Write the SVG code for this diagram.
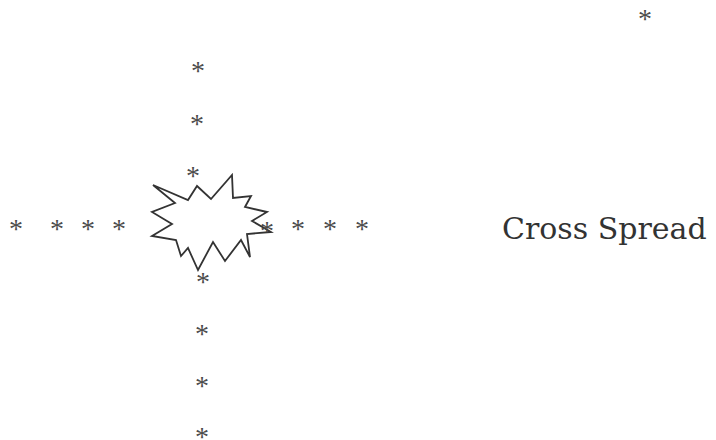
<svg xmlns="http://www.w3.org/2000/svg" width="716" height="440" viewBox="0 0 716 440">
<style>
.a{font-family:"Liberation Serif",serif;font-size:28px;fill:#4a4a4a;text-anchor:middle}
.t{font-family:"DejaVu Serif","Liberation Serif",serif;font-size:30px;fill:#333}
.s{fill:#fff;stroke:#333;stroke-width:1.8;stroke-linejoin:miter}
</style>
<rect width="716" height="440" fill="#fff"/>
<g id="asterisks" opacity="0.99">
<text class="a" x="198" y="80">*</text>
<text class="a" x="197" y="133">*</text>
<text class="a" x="193" y="185">*</text>
<text class="a" x="203" y="291">*</text>
<text class="a" x="202" y="343">*</text>
<text class="a" x="202" y="395">*</text>
<text class="a" x="202" y="446">*</text>
<text class="a" x="16" y="238">*</text>
<text class="a" x="57" y="238">*</text>
<text class="a" x="88" y="238">*</text>
<text class="a" x="119" y="238">*</text>
<text class="a" x="298" y="238">*</text>
<text class="a" x="330" y="238">*</text>
<text class="a" x="362" y="238">*</text>
<text class="a" x="645" y="28">*</text>
</g>
<g id="burst">
<polygon class="s" points="153,185 188,200 197,186 211,199 232,175 233,198 251,196 245,207 267,212 252,221 271,232 247,234 250,257 241,240 225,261 213,242 198,270 188,248 181,256 176,240 152,236 172,224 152,212 175,203"/>
</g>
<g id="asterisk-over" opacity="0.99">
<text class="a" x="267" y="240">*</text>
</g>
<g id="label">
<text class="t" x="502" y="239">Cross Spread</text>
</g>
</svg>
